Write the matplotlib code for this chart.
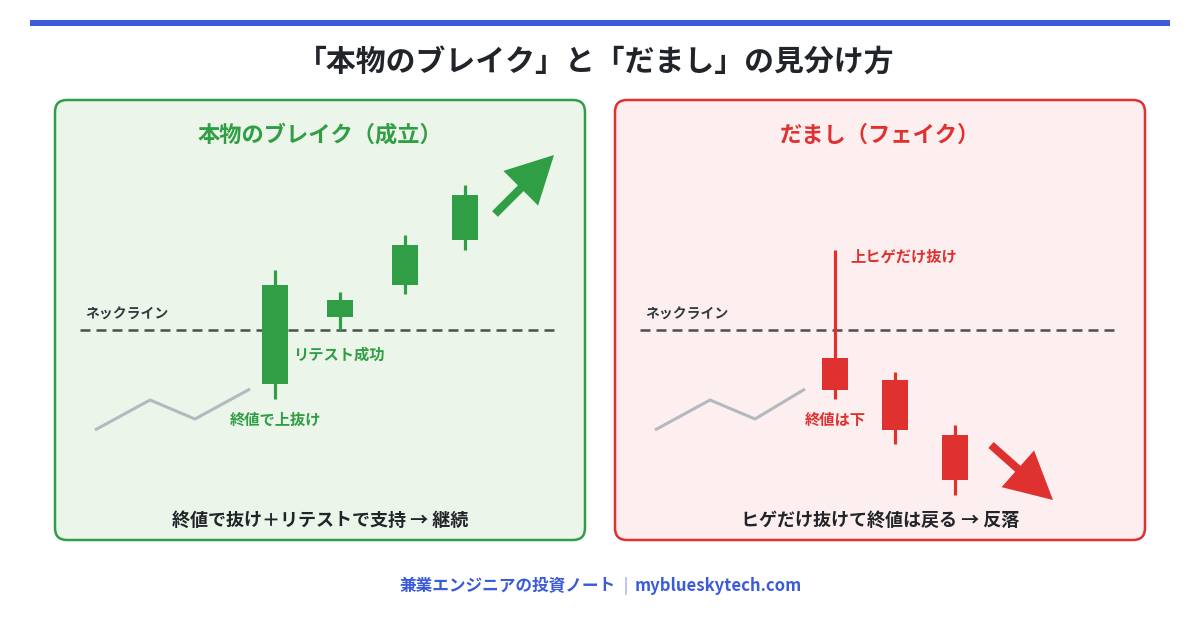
import matplotlib
matplotlib.use("Agg")
import matplotlib.pyplot as plt
from matplotlib.patches import FancyBboxPatch, Rectangle, FancyArrow

plt.rcParams['font.family'] = ['Noto Sans CJK JP', 'DejaVu Sans']

# ---- data (price relative to neckline = 0) ----
title = "「本物のブレイク」と「だまし」の見分け方"
footer_left = "兼業エンジニアの投資ノート"
footer_right = "myblueskytech.com"

lead_x = [4.0, 9.5, 14.0, 19.5]
lead_y = [-10.0, -7.0, -8.9, -5.9]
lead_x_fake = [4.0, 9.5, 14.0, 19.0]

# genuine breakout candles
real_x = [22.0, 28.5, 35.0, 41.0]
real_open = [-5.4, 1.3, 4.5, 9.0]
real_close = [4.5, 3.0, 8.5, 13.5]
real_high = [6.0, 3.8, 9.5, 14.5]
real_low = [-6.9, 0.0, 3.6, 8.0]
real_arrow = [(44.0, 11.6), (49.9, 17.5)]

# fake breakout candles
fake_x = [22.0, 28.0, 34.0]
fake_open = [-2.8, -5.0, -10.5]
fake_close = [-6.0, -10.0, -15.0]
fake_high = [8.0, -4.2, -9.5]
fake_low = [-6.9, -11.4, -16.5]
fake_arrow = [(37.6, -11.5), (43.8, -17.0)]

neckline = 0.0

GREEN = '#2f9e44'
RED = '#e03131'
DARK = '#212529'
BLUE = '#3b5bdb'

fig = plt.figure(figsize=(12, 6.2), dpi=100)
fig.patch.set_facecolor('white')

bg = fig.add_axes([0, 0, 1, 1])
bg.set_xlim(0, 1200)
bg.set_ylim(620, 0)
bg.axis('off')

bg.add_patch(Rectangle((30, 20), 1140, 5.5, color=BLUE, lw=0))
bg.text(596, 62, title, ha='center', va='center', fontsize=21.5,
        fontweight='bold', color=DARK)

bg.text(616, 586, footer_left, ha='right', va='center', fontsize=12,
        fontweight='bold', color=BLUE)
bg.text(626, 586, "|", ha='center', va='center', fontsize=13,
        color='#a9b6e6', family=['DejaVu Sans'])
bg.text(635, 586, footer_right, ha='left', va='center', fontsize=12,
        fontweight='bold', color=BLUE)


def panel(left, edge, face, head, head_col, cx, co, cc, ch, cl, lx, arrow,
          notes, bottom):
    bg.add_patch(FancyBboxPatch((left, 100), 530, 440,
                                boxstyle="round,pad=0,rounding_size=12",
                                fc=face, ec=edge, lw=1.8))
    ax = fig.add_axes([left / 1200, 80 / 620, 530 / 1200, 440 / 620])
    ax.set_xlim(0, 53)
    ax.set_ylim(-21, 23)
    ax.axis('off')
    ax.patch.set_alpha(0)

    ax.text(26.5, 19.5, head, ha='center', va='center', fontsize=16,
            fontweight='bold', color=head_col)

    ax.plot([2.5, 50.0], [neckline, neckline], color='#4a4f55', lw=1.8,
            dashes=(4, 2.4), zorder=2)
    ax.text(3.0, 1.5, "ネックライン", ha='left', va='center', fontsize=10,
            fontweight='bold', color='#343a40')

    ax.plot(lx, lead_y, color='#b4b9bf', lw=2.2, solid_capstyle='butt')

    for x, o, c, h, l in zip(cx, co, cc, ch, cl):
        ax.plot([x, x], [l, h], color=edge, lw=2.3, zorder=3,
                solid_capstyle='butt')
        ax.add_patch(Rectangle((x - 1.3, min(o, c)), 2.6, abs(c - o),
                               color=edge, lw=0, zorder=4))

    (x0, y0), (x1, y1) = arrow
    ax.add_patch(FancyArrow(x0, y0, x1 - x0, y1 - y0, width=0.8,
                            head_width=4.9, head_length=4.7,
                            length_includes_head=True, color=edge, lw=0))

    for tx, ty, s, ha in notes:
        ax.text(tx, ty, s, ha=ha, va='center', fontsize=11,
                fontweight='bold', color=edge)

    ax.text(26.5, -19.0, bottom, ha='center', va='center', fontsize=13,
            fontweight='bold', color=DARK)


panel(55, GREEN, '#ebf5ea', "本物のブレイク（成立）", GREEN,
      real_x, real_open, real_close, real_high, real_low, lead_x, real_arrow,
      [(23.8, -2.5, "リテスト成功", 'left'),
       (22.0, -9.0, "終値で上抜け", 'center')],
      "終値で抜け＋リテストで支持 → 継続")

panel(615, RED, '#fdefef', "だまし（フェイク）", RED,
      fake_x, fake_open, fake_close, fake_high, fake_low, lead_x_fake,
      fake_arrow,
      [(23.5, 7.3, "上ヒゲだけ抜け", 'left'),
       (22.0, -9.0, "終値は下", 'center')],
      "ヒゲだけ抜けて終値は戻る → 反落")

fig.savefig("out.png", dpi=100)
